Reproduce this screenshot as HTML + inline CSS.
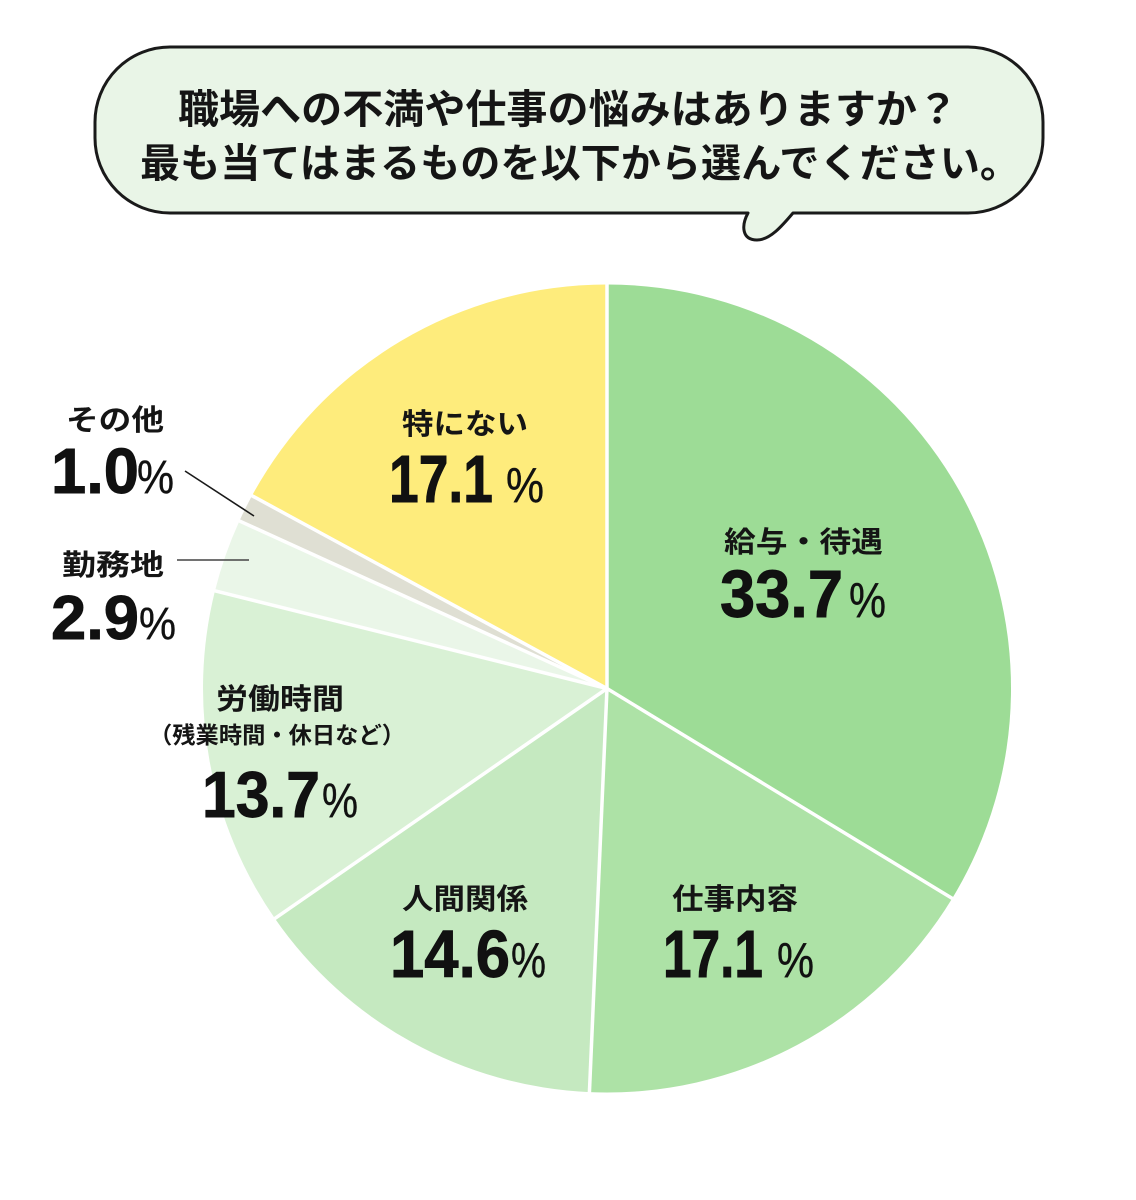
<!DOCTYPE html>
<html lang="ja">
<head>
<meta charset="utf-8">
<style>
  html, body { margin: 0; padding: 0; background: #ffffff; }
  svg { display: block; }
  .jp { font-family: "Liberation Sans", "Noto Sans CJK JP", sans-serif; font-weight: 700; fill: #151515; }
  .num { font-family: "Liberation Sans", sans-serif; font-weight: 700; fill: #111111; stroke: #111111; stroke-width: 0.9; }
  .pct { font-family: "Liberation Sans", sans-serif; font-weight: 400; fill: #111111; stroke: #111111; stroke-width: 0.4; }
</style>
</head>
<body>
<svg width="1136" height="1200" viewBox="0 0 1136 1200" xmlns="http://www.w3.org/2000/svg">
  <rect x="0" y="0" width="1136" height="1200" fill="#ffffff"/>

  <!-- Speech bubble -->
  <path d="M 170,47 H 968 A 75 75 0 0 1 1043,122 V 138 A 75 75 0 0 1 968,213 H 793 C 782,226 770,240 757,240 C 742,240 741,226 748,213 H 170 A 75 75 0 0 1 95,138 V 122 A 75 75 0 0 1 170,47 Z"
        fill="#e9f5e7" stroke="#1a1a1a" stroke-width="3" stroke-linejoin="round"/>
  <text class="jp" x="178" y="123" font-size="40" textLength="780" lengthAdjust="spacingAndGlyphs">職場への不満や仕事の悩みはありますか？</text>
  <text class="jp" x="140" y="177" font-size="40" textLength="880" lengthAdjust="spacingAndGlyphs">最も当てはまるものを以下から選んでください。</text>

  <!-- Pie slices: center (607,688.5), r=404 -->
  <path d="M607,688.5 L607,284.5 A404 404 0 0 1 952.2,898.4 Z" fill="#9ddc96"/>
  <path d="M607,688.5 L952.2,898.4 A404 404 0 0 1 589.4,1092.1 Z" fill="#ade2a6"/>
  <path d="M607,688.5 L589.4,1092.1 A404 404 0 0 1 274.9,918.5 Z" fill="#c5e9c0"/>
  <path d="M607,688.5 L274.9,918.5 A404 404 0 0 1 215.0,590.8 Z" fill="#d9f1d5"/>
  <path d="M607,688.5 L215.0,590.8 A404 404 0 0 1 239.4,521.0 Z" fill="#eaf6e8"/>
  <path d="M607,688.5 L239.4,521.0 A404 404 0 0 1 252.0,495.7 Z" fill="#dfdfd3"/>
  <path d="M607,688.5 L252.0,495.7 A404 404 0 0 1 607,284.5 Z" fill="#feec7c"/>

  <!-- separators -->
  <g stroke="#ffffff" stroke-width="3.5" stroke-linecap="butt">
    <line x1="607" y1="688.5" x2="607" y2="282"/>
    <line x1="607" y1="688.5" x2="954.5" y2="899.8"/>
    <line x1="607" y1="688.5" x2="589.3" y2="1095"/>
    <line x1="607" y1="688.5" x2="272.6" y2="920.1"/>
    <line x1="607" y1="688.5" x2="212.4" y2="590.2"/>
    <line x1="607" y1="688.5" x2="236.9" y2="519.8"/>
    <line x1="607" y1="688.5" x2="249.6" y2="494.4"/>
  </g>

  <!-- Leader lines -->
  <line x1="185" y1="471" x2="254" y2="516" stroke="#1a1a1a" stroke-width="1.6"/>
  <line x1="177" y1="560" x2="249" y2="560" stroke="#444444" stroke-width="1.6"/>

  <!-- 特にない -->
  <text class="jp" x="402" y="434" font-size="29" textLength="126" lengthAdjust="spacingAndGlyphs">特にない</text>
  <text class="num" x="389" y="502" font-size="67" textLength="104" lengthAdjust="spacingAndGlyphs">17.1</text>
  <text class="pct" x="506" y="502" font-size="49" textLength="38" lengthAdjust="spacingAndGlyphs">%</text>

  <!-- 給与・待遇 -->
  <text class="jp" x="724" y="552" font-size="29" textLength="159" lengthAdjust="spacingAndGlyphs">給与・待遇</text>
  <text class="num" x="720" y="617" font-size="67" textLength="123" lengthAdjust="spacingAndGlyphs">33.7</text>
  <text class="pct" x="849" y="617" font-size="49" textLength="37" lengthAdjust="spacingAndGlyphs">%</text>

  <!-- 仕事内容 -->
  <text class="jp" x="672" y="909" font-size="29" textLength="126" lengthAdjust="spacingAndGlyphs">仕事内容</text>
  <text class="num" x="663" y="977" font-size="67" textLength="100" lengthAdjust="spacingAndGlyphs">17.1</text>
  <text class="pct" x="777" y="977" font-size="49" textLength="37" lengthAdjust="spacingAndGlyphs">%</text>

  <!-- 人間関係 -->
  <text class="jp" x="402" y="909" font-size="29" textLength="126" lengthAdjust="spacingAndGlyphs">人間関係</text>
  <text class="num" x="390" y="977" font-size="67" textLength="120" lengthAdjust="spacingAndGlyphs">14.6</text>
  <text class="pct" x="511" y="977" font-size="49" textLength="35" lengthAdjust="spacingAndGlyphs">%</text>

  <!-- 労働時間 -->
  <text class="jp" x="216" y="709" font-size="29" textLength="128" lengthAdjust="spacingAndGlyphs">労働時間</text>
  <text class="jp" x="149" y="743" font-size="23" textLength="256" lengthAdjust="spacingAndGlyphs">（残業時間・休日など）</text>
  <text class="num" x="202" y="817" font-size="65" textLength="118" lengthAdjust="spacingAndGlyphs">13.7</text>
  <text class="pct" x="322" y="817" font-size="48" textLength="36" lengthAdjust="spacingAndGlyphs">%</text>

  <!-- その他 -->
  <text class="jp" x="66" y="430" font-size="29" textLength="98" lengthAdjust="spacingAndGlyphs">その他</text>
  <text class="num" x="51" y="493" font-size="64" textLength="88" lengthAdjust="spacingAndGlyphs">1.0</text>
  <text class="pct" x="137" y="493" font-size="47" textLength="37" lengthAdjust="spacingAndGlyphs">%</text>

  <!-- 勤務地 -->
  <text class="jp" x="62" y="575" font-size="29" textLength="102" lengthAdjust="spacingAndGlyphs">勤務地</text>
  <text class="num" x="51" y="639" font-size="62" textLength="88" lengthAdjust="spacingAndGlyphs">2.9</text>
  <text class="pct" x="139" y="639" font-size="45" textLength="37" lengthAdjust="spacingAndGlyphs">%</text>
</svg>
</body>
</html>
